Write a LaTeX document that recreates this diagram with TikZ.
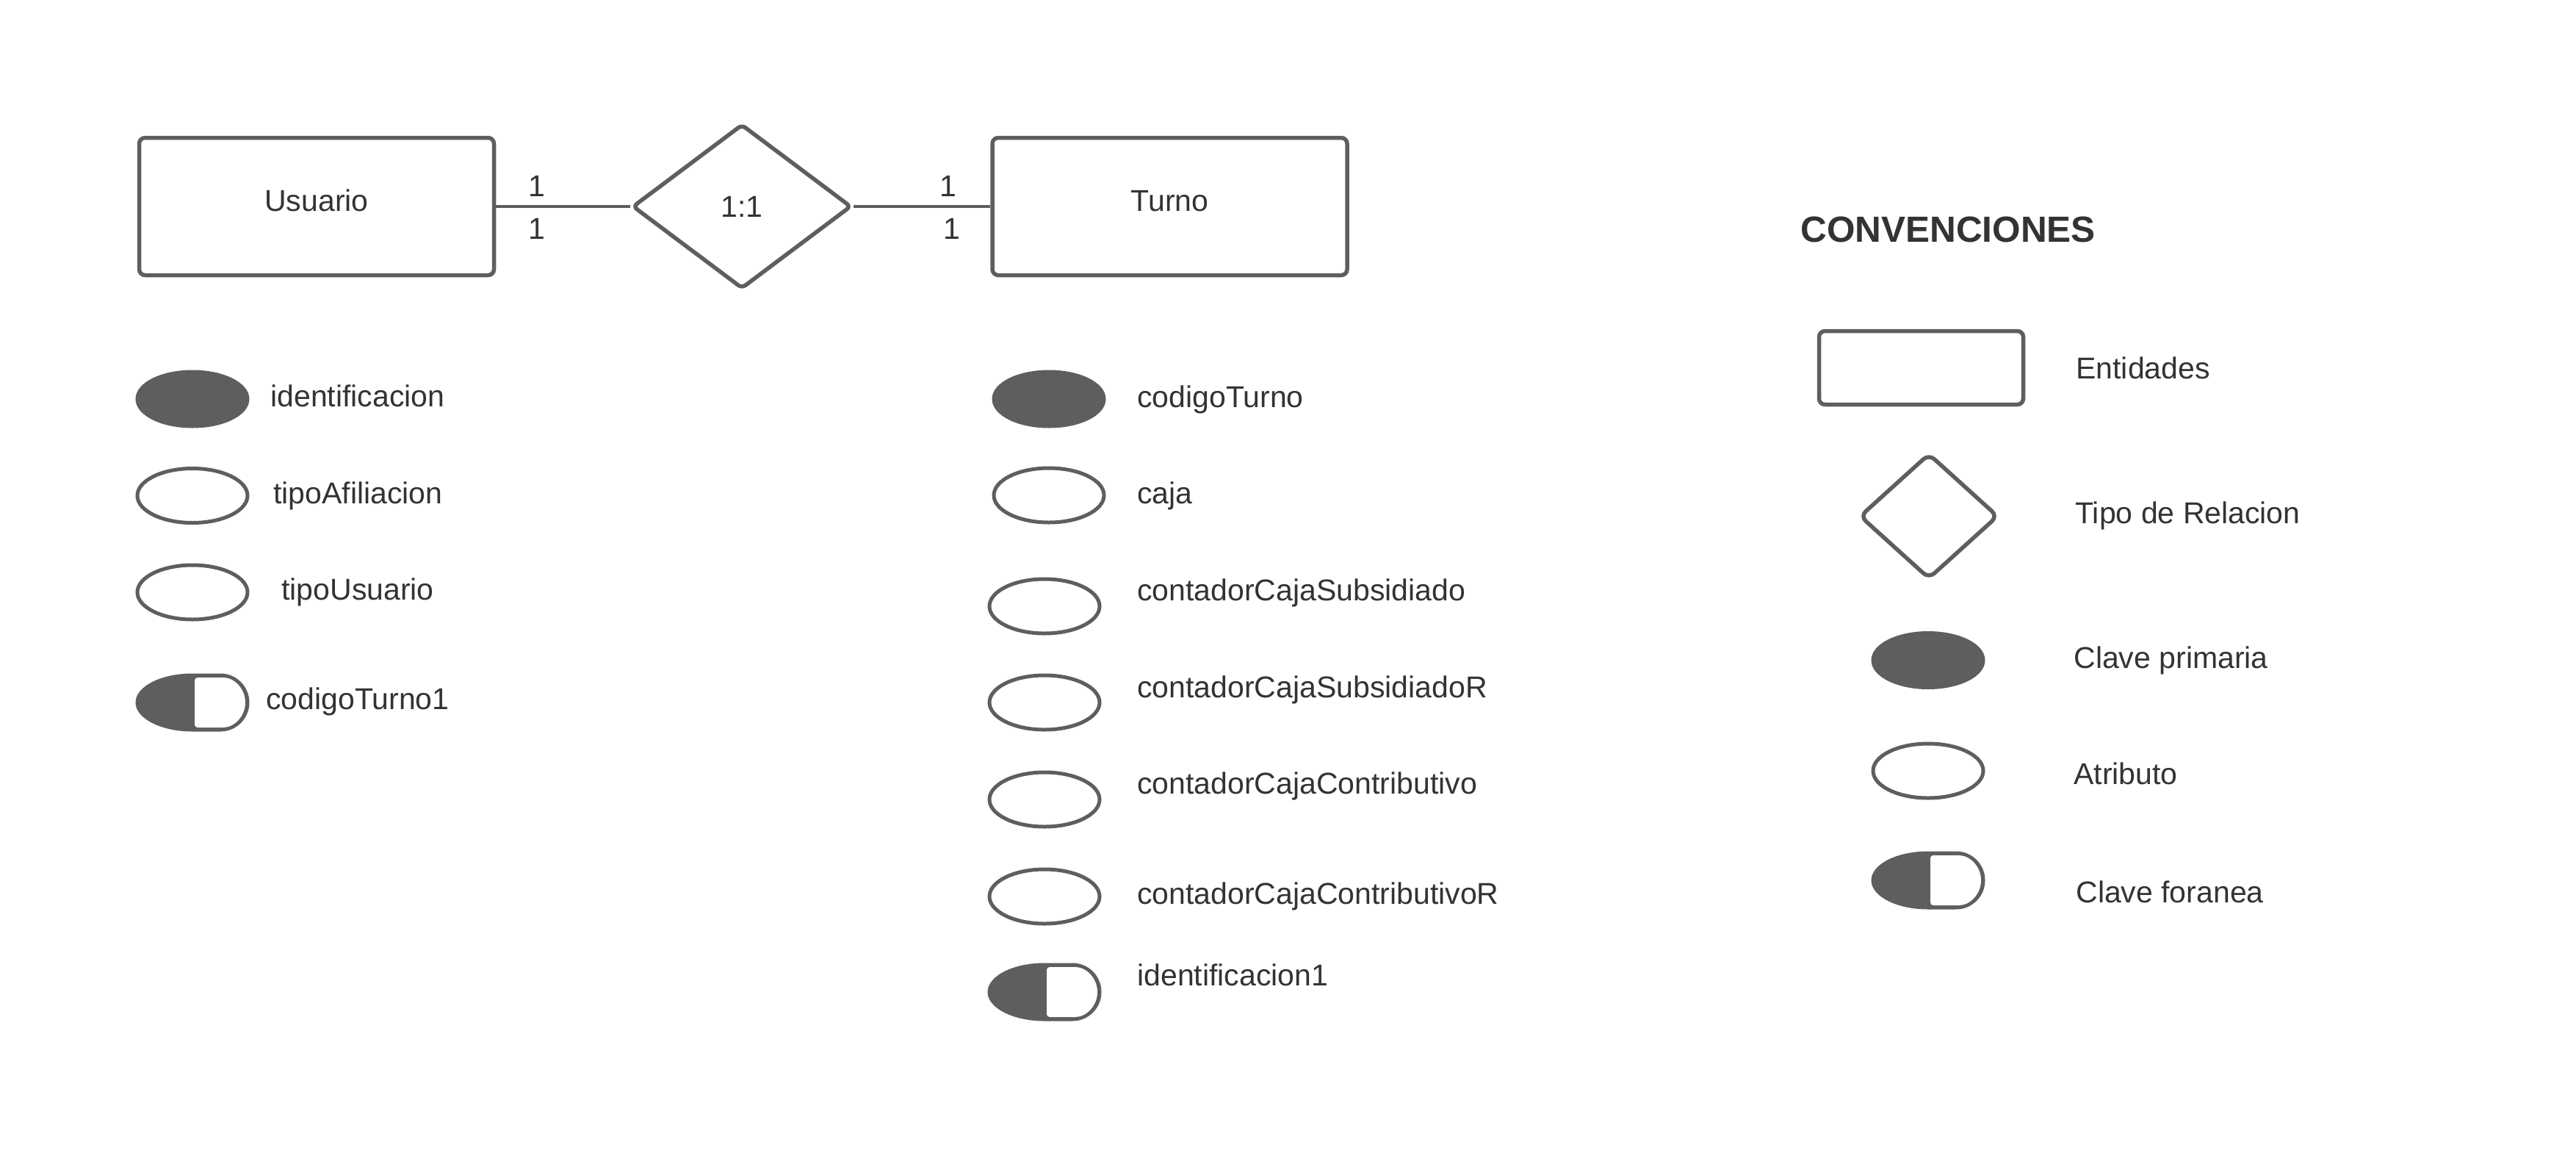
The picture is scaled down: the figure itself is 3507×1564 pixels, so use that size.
\documentclass[tikz,border=0pt]{standalone}
\usepackage{fontspec}
\setmainfont{Liberation Sans}
\usetikzlibrary{shapes.geometric}
\definecolor{lc}{HTML}{5E5E5E}
\definecolor{tc}{HTML}{333333}
\newcommand\txtfont{\fontsize{20.5pt}{24pt}\selectfont}
\newcommand\ttlfont{\fontsize{24.75pt}{29pt}\selectfont\bfseries}
\newcommand\fkey[3]{%
  \node[ellipse, minimum width=77.5pt, minimum height=39.5pt, inner sep=0pt] (#1) at (#2,#3) {};
  \begin{scope}[shift={(#2,#3)}]
    \fill[lc] (0,-39.5) arc[start angle=270, end angle=90, x radius=77.5, y radius=39.5]
      -- (38,39.5) arc[start angle=90, end angle=-90, radius=39.5] -- cycle;
    \fill[white, rounded corners=2pt] (3,0) -- (3,-34) -- (38,-34)
      arc[start angle=-90, end angle=90, radius=34] -- (3,34) -- cycle;
  \end{scope}}
\begin{document}
\begin{tikzpicture}[x=0.5pt, y=-0.5pt,
  ent/.style={draw=lc, line width=2.75pt, rounded corners=4pt, minimum width=241.5pt,
    minimum height=93.5pt, inner sep=0pt, text depth=8pt, text=tc, font=\txtfont},
  rel/.style={diamond, draw=lc, line width=2.75pt, rounded corners=3pt, inner sep=0pt,
    text=tc, font=\txtfont},
  attr/.style={ellipse, draw=lc, line width=2.5pt, minimum width=75pt,
    minimum height=37pt, inner sep=0pt},
  pk/.style={attr, fill=lc},
  lbl/.style={anchor=base west, text=tc, font=\txtfont, inner sep=0pt},
  card/.style={text=tc, font=\txtfont, inner sep=0pt},
  conn/.style={draw=lc, line width=2.25pt}]
\useasboundingbox[fill=white] (0,0) rectangle (3507,1564);

% main ER diagram
\node[ent] (u) at (431,281) {Usuario};
\node[ent] (t) at (1592.5,281) {Turno};
\node[rel, minimum width=149pt, minimum height=112pt] (r) at (1010,281) {1:1};
\draw[conn] (u.east) -- (r.west);
\draw[conn] (r.east) -- (t.west);
\node[card] (c1) at (731,253) {1};
\node[card] (c2) at (731,311) {1};
\node[card] (c3) at (1291,253) {1};
\node[card] (c4) at (1296,311) {1};

% Usuario attributes
\node[pk] (a1) at (262,543) {};
\node[lbl] (t1) at (368,553) {identificacion};
\node[attr] (a2) at (262,674.5) {};
\node[lbl] (t2) at (372,685) {tipoAfiliacion};
\node[attr] (a3) at (262,806) {};
\node[lbl] (t3) at (383,816) {tipoUsuario};
\fkey{a4}{262}{956}
\node[lbl] (t4) at (362,965.5) {codigoTurno1};

% Turno attributes
\node[pk] (b1) at (1428,543) {};
\node[lbl] (s1) at (1548,554) {codigoTurno};
\node[attr] (b2) at (1428,674) {};
\node[lbl] (s2) at (1548,685) {caja};
\node[attr] (b3) at (1422,825) {};
\node[lbl] (s3) at (1548,817) {contadorCajaSubsidiado};
\node[attr] (b4) at (1422,956) {};
\node[lbl] (s4) at (1548,949) {contadorCajaSubsidiadoR};
\node[attr] (b5) at (1422,1088) {};
\node[lbl] (s5) at (1548,1080) {contadorCajaContributivo};
\node[attr] (b6) at (1422,1220) {};
\node[lbl] (s6) at (1548,1230) {contadorCajaContributivoR};
\fkey{b7}{1422}{1350}
\node[lbl] (s7) at (1548,1341) {identificacion1};

% legend
\node[anchor=base west, text=tc, font=\ttlfont, inner sep=0pt] (conv) at (2451,329) {CONVENCIONES};
\node[draw=lc, line width=2.75pt, rounded corners=4pt, minimum width=139pt,
  minimum height=50pt, inner sep=0pt] (le) at (2615.5,500.5) {};
\node[lbl] (lt1) at (2826,515) {Entidades};
\node[rel, rounded corners=5pt, minimum width=94.5pt, minimum height=85.5pt] (ld) at (2626,702.5) {};
\node[lbl] (lt2) at (2825,712) {Tipo de Relacion};
\node[pk] (lp) at (2625,898.5) {};
\node[lbl] (lt3) at (2823,909) {Clave primaria};
\node[attr] (la) at (2625,1049) {};
\node[lbl] (lt4) at (2823,1067) {Atributo};
\fkey{lf}{2625}{1198}
\node[lbl] (lt5) at (2826,1228) {Clave foranea};
\end{tikzpicture}
\end{document}
